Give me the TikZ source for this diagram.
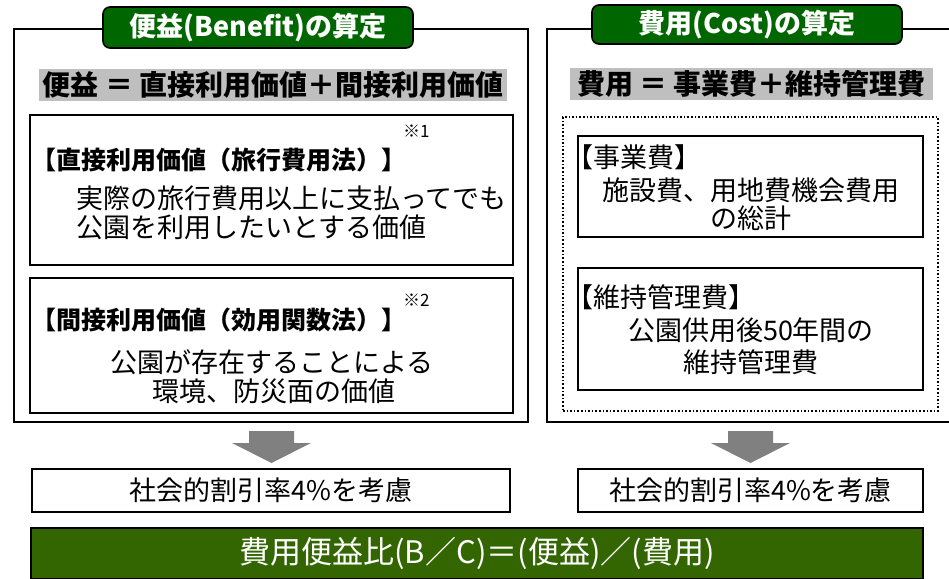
\documentclass[tikz,border=0pt]{standalone}
\usepackage{fontspec}
\setmainfont{Noto Sans CJK JP}
\definecolor{tabgreen}{HTML}{006600}
\definecolor{bargreen}{HTML}{336600}
\definecolor{bargray}{HTML}{BFBFBF}
\definecolor{arrowgray}{HTML}{808080}
\tikzset{
  frame/.style={draw, line width=1.6pt},
  tabbox/.style={draw, line width=1.6pt, fill=tabgreen, rounded corners=7pt, text=white, font=\bfseries\fontsize{27}{30}\selectfont},
  graybar/.style={fill=bargray, font=\bfseries\fontsize{28}{32}\selectfont},
  boxx/.style={draw, line width=1.6pt, fill=white},
  dotbox/.style={draw, line width=1.6pt, dotted},
  txt/.style={font=\fontsize{27}{31}\selectfont},
  ttl/.style={font=\bfseries\fontsize{25}{30}\selectfont},
  notetxt/.style={font=\fontsize{17}{19}\selectfont},
  resultbar/.style={draw, line width=1.6pt, fill=bargreen, text=white, font=\fontsize{31}{34}\selectfont},
}
\begin{document}
\begin{tikzpicture}[x=1pt, y=-1pt, every node/.style={inner sep=0pt, outer sep=0pt}]
\useasboundingbox (0,0) rectangle (949,578);

% left frame
\node[frame, minimum width=514, minimum height=393] (lframe) at (271,225.5) {};
% right frame (open at right edge)
\coordinate (rtop) at (949,29);
\coordinate (rbot) at (949,422);
\draw[line width=1.6pt] (rtop) -| (547,422) -- (rbot);

% title tabs
\node[tabbox, minimum width=310, minimum height=41] (ltab) at (258,27.5) {便益(Benefit)の算定};
\node[tabbox, minimum width=310, minimum height=39] (rtab) at (747,24.5) {費用(Cost)の算定};

% gray bars
\node[graybar, minimum width=468, minimum height=32] (lbar) at (273,85) {便益 ＝ 直接利用価値＋間接利用価値};
\node[graybar, minimum width=363, minimum height=32] (rbar) at (751.5,84) {費用 ＝ 事業費＋維持管理費};

% left boxes
\node[boxx, minimum width=483, minimum height=150] (db) at (271.5,190) {};
\node[ttl, anchor=west] (dbt) at (31,160) {【直接利用価値（旅行費用法）】};
\node[notetxt, anchor=west] (dbn) at (403,131) {※1};
\node[txt, anchor=west] (db1) at (76,198) {実際の旅行費用以上に支払ってでも};
\node[txt, anchor=west] (db2) at (76,227) {公園を利用したいとする価値};

\node[boxx, minimum width=483, minimum height=135] (ib) at (271.5,345.5) {};
\node[ttl, anchor=west] (ibt) at (31,320) {【間接利用価値（効用関数法）】};
\node[notetxt, anchor=west] (ibn) at (403,300) {※2};
\node[txt] (ib1) at (272,362) {公園が存在することによる};
\node[txt] (ib2) at (274,391) {環境、防災面の価値};

% right boxes
\node[dotbox, minimum width=375, minimum height=294] (cbox) at (750.5,264) {};
\node[boxx, minimum width=345, minimum height=101] (jb) at (750.5,186.5) {};
\node[txt, anchor=west] (jbt) at (566,157) {【事業費】};
\node[txt] (jb1) at (751,190) {施設費、用地費機会費用};
\node[txt] (jb2) at (751,218) {の総計};

\node[boxx, minimum width=345, minimum height=122] (mb) at (750.5,329) {};
\node[txt, anchor=west] (mbt) at (566,297) {【維持管理費】};
\node[txt] (mb1) at (751,330) {公園供用後50年間の};
\node[txt] (mb2) at (751,362) {維持管理費};

% arrows
\foreach \cx in {271.5,750.5}
  \fill[arrowgray] (\cx-22.5,431) -- (\cx+22.5,431) -- (\cx+22.5,443) -- (\cx+39.5,443)
     -- (\cx,463) -- (\cx-39.5,443) -- (\cx-22.5,443) -- cycle;

% discount boxes
\node[boxx, txt, minimum width=478, minimum height=43] (ld) at (271,490.5) {社会的割引率4\%を考慮};
\node[boxx, txt, minimum width=345, minimum height=43] (rd) at (750.5,490.5) {社会的割引率4\%を考慮};

% result bar
\node[resultbar, minimum width=892, minimum height=51] (res) at (477,553.5) {費用便益比(B／C)＝(便益)／(費用)};
\end{tikzpicture}
\end{document}
